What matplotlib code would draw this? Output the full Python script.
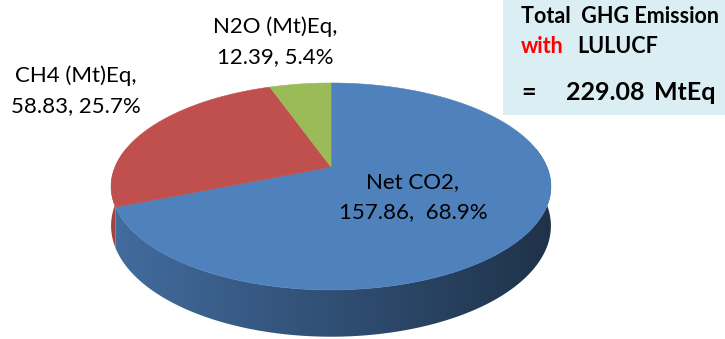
import numpy as np
import matplotlib
matplotlib.use("Agg")
import matplotlib.pyplot as plt
from matplotlib.patches import Polygon, Rectangle

# Emission components (Mt CO2 equivalent), drawn clockwise from 12 o'clock
categories = ["Net CO2", "CH4 (Mt)Eq", "N2O (Mt)Eq"]
values = [157.86, 58.83, 12.39]
top_colors = ["#4F81BD", "#C0504D", "#9BBB59"]

plt.rcParams["font.family"] = ["Lato", "DejaVu Sans"]

W, H = 725, 339
fig = plt.figure(figsize=(W / 100, H / 100), dpi=100)
ax = fig.add_axes([0, 0, 1, 1])
ax.set_xlim(0, W)
ax.set_ylim(H, 0)
ax.axis("off")

# Perspective view of a tilted disk
X0, Y0 = 331.0, 167.0
A, B, K = 216.0, 99.8, 0.188
DEPTH = 38.0


def project(phi, drop=0.0):
    u = np.sin(phi)
    v = -np.cos(phi)
    w = 1 - K * v
    return X0 + A * u / w, Y0 + B * v / w + drop / w


vals = np.array(values)
fracs = vals / vals.sum()
edges = np.concatenate([[0], np.cumsum(fracs)]) * 2 * np.pi

# Side wall: one band per slice, filled with a left-to-right shading gradient
xg = np.linspace(0, W, 726)
ug = np.clip((xg - X0) / (A * 1.018), -1, 1)
shade = 0.84 - 0.45 * (ug + 1) / 2
for i, col in enumerate(top_colors):
    a0, a1 = edges[i], edges[i + 1]
    ph = np.linspace(a0, a1, 400)
    # keep only the part of the rim that faces the viewer
    front = np.cos(ph) < 0.2
    if not front.any():
        continue
    ph = ph[front]
    xt, yt = project(ph)
    xb, yb = project(ph, drop=DEPTH)
    pts = list(zip(xt, yt)) + list(zip(xb[::-1], yb[::-1]))
    band = Polygon(pts, closed=True, facecolor="none", edgecolor="none")
    ax.add_patch(band)
    rgb = np.array(matplotlib.colors.to_rgb(col))
    img = np.clip(shade[None, :, None] * rgb[None, None, :], 0, 1)
    im = ax.imshow(img, extent=(0, W, H, 0), aspect="auto",
                   interpolation="bilinear", zorder=1)
    im.set_clip_path(band)

# Top face slices
for i, col in enumerate(top_colors):
    ph = np.linspace(edges[i], edges[i + 1], 200)
    xs, ys = project(ph)
    pts = [(X0, Y0)] + list(zip(xs, ys))
    ax.add_patch(Polygon(pts, closed=True, facecolor=col, edgecolor=col,
                         lw=0.4, zorder=2))

ax.set_xlim(0, W)
ax.set_ylim(H, 0)

# Data labels
label_pos = [(413, 182), (76, 76), (275, 27)]
for name, v, fr, (lx, ly) in zip(categories, values, fracs, label_pos):
    head = name + ","
    gap = ",  " if name.startswith("Net") else ", "
    body = f"{v:.2f}{gap}{fr * 100:.1f}%"
    ax.text(lx, ly, head, ha="center", va="center", fontsize=16,
            color="black", zorder=3)
    ax.text(lx, ly + 30, body, ha="center", va="center", fontsize=16,
            color="black", zorder=3)

# Total box
ax.add_patch(Rectangle((503, 0), W - 503, 115, facecolor="#DAEEF3",
                       edgecolor="none", zorder=3))
ax.text(521, 23, "Total  GHG Emission", ha="left", va="baseline",
        fontsize=15.5, fontweight="bold", color="black", zorder=4)
ax.text(521, 53, "with", ha="left", va="baseline",
        fontsize=15.5, fontweight="bold", color="#FF0000", zorder=4)
ax.text(577, 53, "LULUCF", ha="left", va="baseline",
        fontsize=15.5, fontweight="bold", color="black", zorder=4)
ax.text(521, 100, "=", ha="left", va="baseline",
        fontsize=18, fontweight="bold", color="black", zorder=4)
ax.text(566, 100, f"{vals.sum():.2f}", ha="left", va="baseline",
        fontsize=18, fontweight="bold", color="black", zorder=4)
ax.text(654, 100, "MtEq", ha="left", va="baseline",
        fontsize=18, fontweight="bold", color="black", zorder=4)

fig.savefig("out.png", dpi=100)
